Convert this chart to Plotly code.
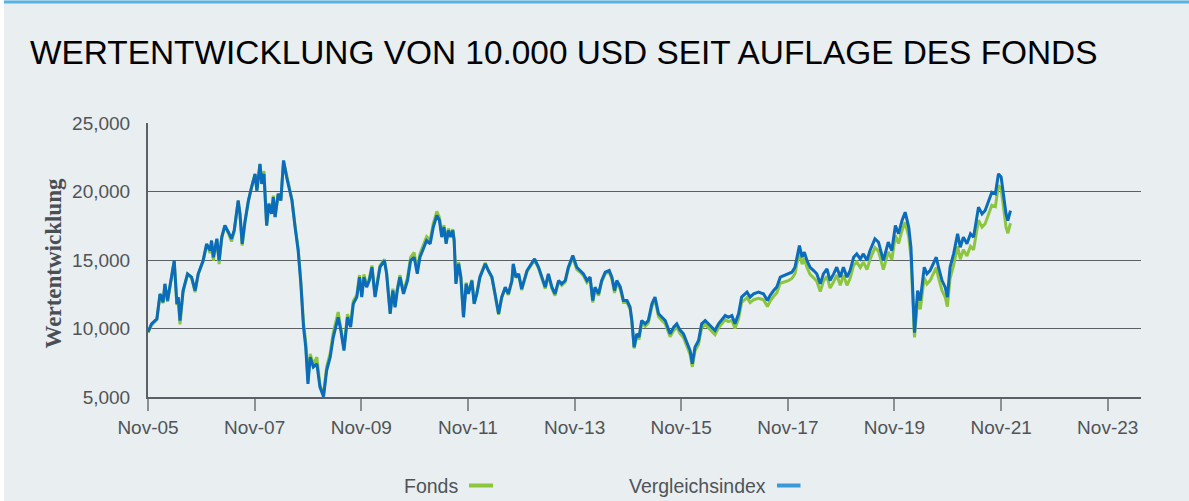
import numpy as np
import pandas as pd
import plotly.graph_objects as go

# Months since fund launch (Nov 2005)
months = [0.0, 0.8, 2.0, 2.7, 3.4, 3.8, 4.4, 5.3, 5.9, 6.5, 6.8, 7.2, 7.9, 8.3, 8.9, 9.8, 10.6, 11.3, 12.4, 13.2,
          14.0, 14.3, 14.7, 15.5, 16.0, 16.6, 17.3, 18.1, 18.8, 19.4, 20.3, 20.7, 21.2, 21.8, 22.6, 23.3, 24.1, 24.5, 25.2, 25.6,
          26.1, 26.7, 27.2, 27.8, 28.2, 28.6, 29.3, 29.9, 30.5, 31.2, 31.7, 32.4, 33.1, 33.8, 34.4, 35.0, 35.5, 36.0, 36.5, 37.2,
          38.0, 38.7, 39.5, 40.2, 41.0, 41.7, 42.8, 43.4, 44.1, 44.9, 45.6, 46.2, 47.0, 47.6, 48.1, 48.6, 49.2, 49.8, 50.4, 51.1,
          52.2, 53.2, 53.7, 54.5, 55.1, 55.6, 56.1, 56.7, 57.5, 58.4, 59.1, 59.9, 60.6, 61.2, 62.1, 62.7, 63.5, 64.2, 65.0, 65.6,
          66.1, 66.6, 67.1, 67.6, 68.1, 68.6, 68.9, 69.3, 69.9, 70.4, 71.0, 71.6, 72.1, 72.9, 73.4, 74.0, 74.7, 75.9, 76.6, 77.4,
          78.1, 78.9, 79.6, 80.4, 81.1, 81.9, 82.2, 82.8, 83.4, 84.1, 85.3, 86.2, 87.0, 87.9, 88.6, 89.4, 90.1, 90.9, 91.6, 92.4,
          93.1, 93.9, 94.6, 95.6, 96.5, 97.3, 98.0, 98.8, 99.5, 100.1, 100.6, 101.4, 102.1, 102.9, 103.8, 104.4, 105.0, 105.5, 106.3, 107.0,
          107.8, 108.5, 108.9, 109.4, 110.0, 110.5, 111.1, 111.9, 112.6, 113.4, 114.1, 114.9, 115.6, 116.4, 117.5, 118.3, 119.0, 119.7, 120.5, 121.3,
          122.0, 122.5, 123.1, 123.9, 124.6, 125.4, 126.1, 126.9, 127.6, 128.4, 129.2, 129.9, 130.6, 131.4, 132.1, 132.9, 133.6, 134.8, 135.5, 136.3,
          137.4, 138.5, 139.4, 140.0, 140.8, 141.5, 142.3, 143.2, 144.1, 144.9, 145.6, 146.2, 146.6, 147.2, 147.7, 148.3, 149.0, 149.8, 150.5, 151.3,
          152.0, 152.8, 153.5, 154.3, 155.0, 155.8, 156.5, 157.3, 158.0, 158.8, 159.5, 160.3, 161.0, 161.8, 162.5, 163.6, 164.4, 165.5, 166.6, 167.4,
          168.2, 168.9, 169.7, 170.4, 171.2, 171.7, 172.2, 172.5, 173.2, 173.8, 174.7, 175.3, 176.0, 176.8, 177.4, 177.9, 178.7, 179.4, 179.9, 180.5,
          181.3, 182.2, 182.8, 183.5, 184.3, 185.1, 185.8, 186.9, 187.7, 188.4, 189.2, 189.9, 190.7, 191.4, 192.0, 192.6, 193.1, 193.5, 194.1]

vergleichsindex = [9750, 10340, 10710, 12530, 11920, 13260, 12040, 13800, 14960, 11800, 12290, 10580, 12770, 13260, 13990, 13750, 12770, 13990, 14960, 16180,
                   15690, 16420, 15200, 16550, 14960, 16670, 17520, 17030, 16550, 17150, 19340, 18370, 16180, 17760, 19340, 20310, 21290, 20070, 22010, 20550,
                   21290, 17520, 19100, 18370, 19580, 18130, 19830, 19340, 22270, 21050, 20310, 19340, 17400, 15690, 13260, 10100, 8640, 5960, 7910, 7180,
                   7420, 5720, 5030, 6930, 7910, 9370, 10820, 9850, 8390, 10820, 10100, 11800, 12290, 13750, 12290, 13750, 13020, 13500, 14470, 12290,
                   14470, 14960, 13990, 11070, 12770, 11550, 12770, 13750, 12530, 13500, 14960, 15200, 13990, 15200, 15930, 16420, 16180, 17400, 18250, 17880,
                   16670, 17400, 16180, 17150, 16670, 17150, 16420, 13260, 14720, 13750, 10820, 13260, 12530, 13500, 11800, 12530, 13750, 14720, 14230, 13750,
                   12530, 11070, 12290, 13020, 12530, 13500, 14720, 13750, 13990, 12890, 14230, 14720, 15090, 14470, 13750, 13020, 13990, 13020, 12530, 13500,
                   13260, 13500, 14470, 15330, 14470, 14230, 13990, 13500, 13750, 12040, 13020, 12530, 13500, 14110, 14230, 13750, 12770, 13500, 13020, 12040,
                   12040, 11550, 10580, 8640, 9610, 9370, 10580, 10340, 10580, 11800, 12290, 11070, 10820, 10580, 9610, 10100, 10340, 9900, 9610, 8880,
                   8390, 7420, 8640, 9120, 10340, 10580, 10340, 10100, 9850, 10340, 10710, 10950, 10820, 10950, 10340, 11070, 12290, 12650, 12290, 12530,
                   12650, 12530, 12040, 12410, 12770, 13020, 13750, 13870, 13990, 14110, 14470, 15450, 16060, 15200, 15570, 14960, 14470, 14230, 13990, 13260,
                   13990, 14350, 13500, 13990, 14470, 13750, 14470, 13750, 14230, 15200, 15450, 15080, 15450, 14960, 15690, 16550, 16300, 14960, 16300, 15690,
                   17520, 16910, 17880, 18490, 17400, 15930, 12530, 9700, 12770, 12040, 14470, 13990, 14230, 14720, 15200, 14470, 13500, 13020, 12290, 14470,
                   15450, 16910, 15930, 16670, 16180, 16910, 16670, 18860, 18370, 18610, 19340, 19950, 19830, 21290, 21050, 19580, 18370, 17880, 18610]

fonds = [9700, 10250, 10650, 12450, 11850, 13200, 11950, 13750, 14900, 11700, 12200, 10300, 12700, 13200, 13950, 13700, 12650, 13950, 14900, 16100,
         15500, 16400, 14950, 16500, 14700, 16600, 17500, 16950, 16350, 17100, 19300, 18300, 16050, 17700, 19300, 20300, 21250, 20050, 22000, 20600,
         21500, 17500, 19150, 18400, 19700, 18150, 19850, 19400, 22200, 21200, 20450, 19400, 17500, 15800, 13450, 10400, 9000, 6200, 8150, 7400,
         7900, 5900, 5150, 7200, 8200, 9700, 11200, 10100, 8600, 11050, 10350, 12000, 12450, 13900, 12450, 13950, 13150, 13650, 14600, 12400,
         14600, 15050, 14100, 11150, 12900, 11650, 12900, 13900, 12700, 13700, 15200, 15550, 14200, 15450, 16250, 16700, 16450, 17650, 18550, 18100,
         16850, 17550, 16300, 17300, 16800, 17250, 16500, 13400, 14850, 13850, 10900, 13350, 12600, 13550, 11850, 12580, 13800, 14800, 14250, 13700,
         12450, 11000, 12250, 12950, 12450, 13450, 14650, 13700, 13950, 12800, 14150, 14650, 15000, 14400, 13650, 12900, 13900, 12900, 12400, 13400,
         13150, 13400, 14350, 15200, 14300, 14100, 13850, 13350, 13600, 11900, 12900, 12400, 13400, 14000, 14100, 13600, 12600, 13350, 12850, 11900,
         11900, 11400, 10450, 8550, 9450, 9200, 10400, 10150, 10400, 11600, 12100, 10850, 10600, 10350, 9400, 9850, 10100, 9650, 9350, 8600,
         8100, 7200, 8350, 8850, 10050, 10300, 10050, 9800, 9550, 10050, 10400, 10650, 10500, 10600, 10000, 10700, 11900, 12250, 11900, 12100,
         12200, 12100, 11600, 12000, 12350, 12600, 13300, 13400, 13500, 13650, 14000, 15000, 15600, 14700, 15100, 14450, 13950, 13700, 13450, 12700,
         13450, 13800, 12950, 13400, 13900, 13150, 13900, 13150, 13650, 14600, 14850, 14450, 14850, 14300, 15050, 15900, 15650, 14300, 15600, 15000,
         16800, 16200, 17150, 17750, 16700, 15200, 11900, 9350, 12100, 11400, 13700, 13250, 13500, 14000, 14450, 13700, 12750, 12300, 11600, 13650,
         14600, 16000, 15050, 15750, 15300, 16000, 15750, 17900, 17400, 17650, 18400, 19000, 18900, 20450, 20200, 18700, 17400, 16950, 17700]

y_ticks = [5000, 10000, 15000, 20000, 25000]
x_tick_dates = ["2005-11-01", "2007-11-01", "2009-11-01", "2011-11-01", "2013-11-01",
                "2015-11-01", "2017-11-01", "2019-11-01", "2021-11-01", "2023-11-01"]

title_text = "WERTENTWICKLUNG VON 10.000 USD SEIT AUFLAGE DES FONDS"
y_title = "Wertentwicklung"
series_names = ["Fonds", "Vergleichsindex"]
fonds_color = "#8cc63f"
index_color = "#0a6cbb"

start = pd.Timestamp("2005-11-01")
dates = start + pd.to_timedelta(np.array(months) * 30.4375, unit="D")

W, H = 1189, 501
L, R, T, B = 148, 48, 123, 104
pw, ph = W - L - R, H - T - B


def px_x(p):
    return (p - L) / pw


def px_y(p):
    return (H - B - p) / ph


fig = go.Figure()
fig.add_trace(go.Scatter(x=dates, y=fonds, mode="lines", name=series_names[0],
                         line=dict(color=fonds_color, width=3), showlegend=False))
fig.add_trace(go.Scatter(x=dates, y=vergleichsindex, mode="lines", name=series_names[1],
                         line=dict(color=index_color, width=3), showlegend=False))

bg = "#e9eef1"
axis_col = "#5a6065"
tick_font = dict(family="Liberation Sans, Arial, sans-serif", size=19, color="#505458")

fig.update_layout(
    width=W, height=H,
    margin=dict(l=L, r=R, t=T, b=B),
    paper_bgcolor=bg, plot_bgcolor=bg,
    title=dict(text=title_text, x=30 / W, xanchor="left", xref="container",
               y=1 - 52 / H, yanchor="middle", yref="container",
               font=dict(family="Liberation Sans, Arial, sans-serif", size=33.4, color="#000000")),
    xaxis=dict(type="date", range=["2005-11-01", "2024-06-16"],
               tickvals=x_tick_dates, tickformat="%b-%y",
               showgrid=False, showline=True, linecolor=axis_col, linewidth=2,
               ticks="outside", ticklen=12, tickwidth=2, tickcolor="#8c9196",
               tickfont=tick_font, zeroline=False),
    yaxis=dict(range=[5000, 25000], tickvals=y_ticks, tickformat=",d",
               showgrid=True, gridcolor=axis_col, gridwidth=1.2,
               showline=True, linecolor=axis_col, linewidth=2,
               ticks="", ticklabelstandoff=12, tickfont=tick_font, zeroline=False),
    showlegend=False,
)

shapes = [
    # white strip on left edge
    dict(type="rect", xref="paper", yref="paper", x0=px_x(0), x1=px_x(4), y0=px_y(H), y1=px_y(0),
         fillcolor="#ffffff", line=dict(width=0), layer="below"),
    # top accent line
    dict(type="line", xref="paper", yref="paper", x0=px_x(4), x1=px_x(W), y0=px_y(2), y1=px_y(2),
         line=dict(color="#56b4e6", width=3)),
    # legend swatches
    dict(type="line", xref="paper", yref="paper", x0=px_x(469), x1=px_x(493), y0=px_y(485.5), y1=px_y(485.5),
         line=dict(color=fonds_color, width=4)),
    dict(type="line", xref="paper", yref="paper", x0=px_x(777), x1=px_x(800.5), y0=px_y(485.5), y1=px_y(485.5),
         line=dict(color="#3a9ad9", width=4)),
]
fig.update_layout(shapes=shapes)

legend_font = dict(family="Liberation Sans, Arial, sans-serif", size=19.5, color="#4f5459")
annotations = [
    dict(text=series_names[0], xref="paper", yref="paper", x=px_x(460), y=px_y(486),
         xanchor="right", yanchor="middle", showarrow=False, font=legend_font),
    dict(text=series_names[1], xref="paper", yref="paper", x=px_x(768), y=px_y(486),
         xanchor="right", yanchor="middle", showarrow=False, font=legend_font),
    dict(text="<b>" + y_title + "</b>", xref="paper", yref="paper", x=px_x(53), y=px_y(263.5),
         xanchor="center", yanchor="middle", textangle=-90, showarrow=False,
         font=dict(family="Liberation Serif, Times New Roman, serif", size=23, color="#4a4f54")),
]
fig.update_layout(annotations=annotations)

fig.write_html("out.html", config={"displayModeBar": False},
               post_script="document.body.style.margin='0';document.body.style.overflow='hidden';")
